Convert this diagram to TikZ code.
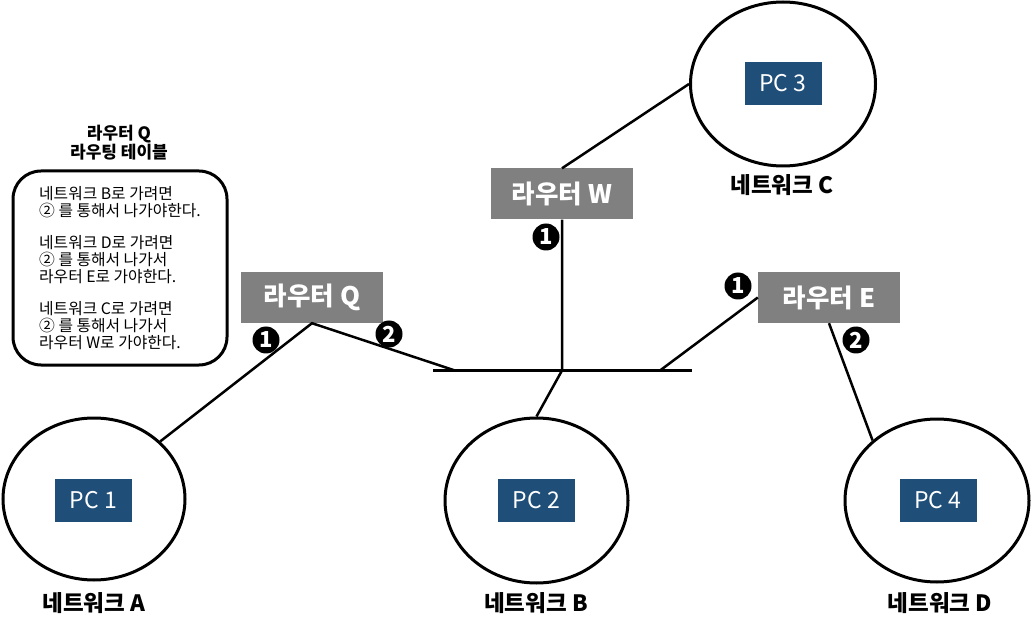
\documentclass[tikz,border=0pt]{standalone}
\usepackage{fontspec}
\setmainfont{Noto Sans CJK KR}
\usetikzlibrary{shapes.geometric,positioning}

\definecolor{pcblue}{RGB}{31,78,121}
\definecolor{routergray}{RGB}{128,128,128}

\tikzset{
    net/.style={ellipse, draw, line width=3pt, inner sep=0pt},
    pcbox/.style={fill=pcblue, text=white, minimum width=77pt, minimum height=43pt,
        inner sep=0pt, font=\fontsize{23}{26}\selectfont},
    router/.style={fill=routergray, text=white, minimum width=142pt, minimum height=51pt,
        inner sep=0pt, font=\fontsize{25.5}{28}\selectfont\bfseries},
    netlabel/.style={font=\fontsize{22.5}{26}\selectfont\bfseries},
    badge/.style={circle, fill=black, text=white, minimum size=27pt, inner sep=0pt,
        font=\fontsize{22}{22}\selectfont\bfseries},
    link/.style={line width=2.5pt},
}

\begin{document}
\begin{tikzpicture}[x=1pt,y=-1pt]
    \useasboundingbox (0,0) rectangle (1031,628);

    % networks
    \node[net, minimum width=182pt, minimum height=162pt] (netA) at (94,499) {};
    \node[net, minimum width=183pt, minimum height=165pt] (netB) at (536.5,500.5) {};
    \node[net, minimum width=185pt, minimum height=164pt] (netC) at (783,84) {};
    \node[net, minimum width=184pt, minimum height=163pt] (netD) at (937,500.5) {};

    \node[pcbox] (pc1) at (93.5,500.5) {PC 1};
    \node[pcbox] (pc2) at (536.5,500.5) {PC 2};
    \node[pcbox] (pc3) at (783,83.5) {PC 3};
    \node[pcbox] (pc4) at (938,500.5) {PC 4};

    \node[netlabel] (labA) at (94,603) {네트워크 A};
    \node[netlabel] (labB) at (536,603) {네트워크 B};
    \node[netlabel] (labC) at (782,185) {네트워크 C};
    \node[netlabel] (labD) at (940,603) {네트워크 D};

    % routers
    \node[router] (Q) at (312,297.5) {라우터 Q};
    \node[router] (W) at (562,194) {라우터 W};
    \node[router] (E) at (829,297.5) {라우터 E};

    % bus
    \coordinate (busL) at (433,370.5);
    \coordinate (busR) at (692,370.5);
    \coordinate (tapQ) at (455,370.5);
    \coordinate (tapE) at (660,370.5);
    \draw[line width=3pt] (busL) -- (busR);

    \draw[link] (netA.41) -- (Q.south) -- (tapQ);
    \draw[link] (W.south) -- (W.south |- busL) -- (netB.north);
    \draw[link] (W.north) -- (netC.west);
    \draw[link] (tapE) -- (E.west);
    \draw[link] (E.south) -- (netD.137);

    % interface numbers
    \node[badge] (q1) at (266,340) {1};
    \node[badge] (q2) at (389,334) {2};
    \node[badge] (w1) at (546,237) {1};
    \node[badge] (e1) at (738,286) {1};
    \node[badge] (e2) at (856,340) {2};

    % routing table of Q
    \node[align=center, font=\fontsize{17}{19}\selectfont\bfseries] (qtitle) at (119,143)
        {라우터 Q\\라우팅 테이블};
    \node[draw, line width=3pt, rounded corners=28pt, minimum width=214pt,
        minimum height=194pt, align=left, font=\fontsize{15.8}{17}\selectfont] (qtable) at (120,268)
        {네트워크 B로 가려면\\② 를 통해서 나가야한다.\\[15pt]
         네트워크 D로 가려면\\② 를 통해서 나가서\\라우터 E로 가야한다.\\[15pt]
         네트워크 C로 가려면\\② 를 통해서 나가서\\라우터 W로 가야한다.};
\end{tikzpicture}
\end{document}
